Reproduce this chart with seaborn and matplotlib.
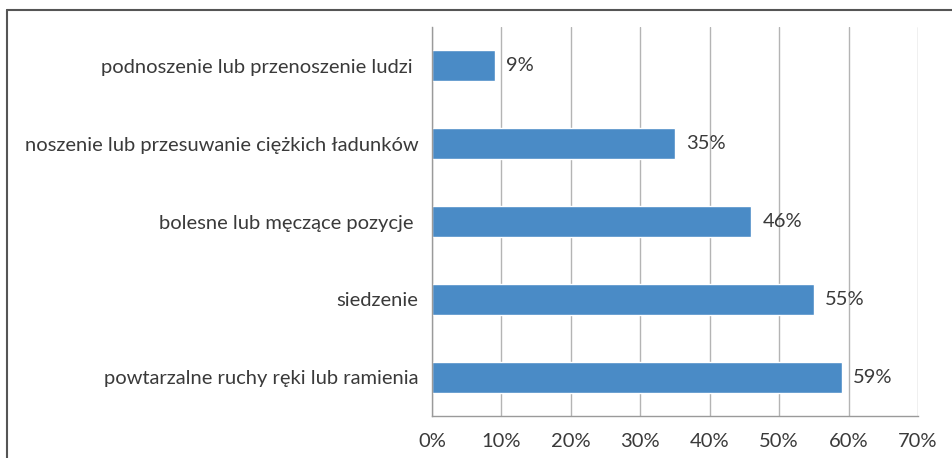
import numpy as np
import matplotlib.pyplot as plt
import seaborn as sns
import pandas as pd
from matplotlib.lines import Line2D

# Data
categories = [
    'podnoszenie lub przenoszenie ludzi ',
    'noszenie lub przesuwanie ciężkich ładunków',
    'bolesne lub męczące pozycje ',
    'siedzenie',
    'powtarzalne ruchy ręki lub ramienia',
]
values = [9, 35, 46, 55, 59]
x_ticks = [0, 10, 20, 30, 40, 50, 60, 70]

df = pd.DataFrame({'Kategoria': categories, 'Procent': values})

sns.set_style('white')
plt.rcParams['font.family'] = ['Lato', 'DejaVu Sans']

fig = plt.figure(figsize=(9.52, 4.58), dpi=100)
ax = fig.add_axes([0.4538, 0.0917, 0.5105, 0.8493])

sns.barplot(x='Procent', y='Kategoria', data=df, orient='h', color='#4A8BC6',
            saturation=1, width=0.4, ax=ax)

fs = 14.5
ax.set_xlim(0, 70)
ax.set_xticks(x_ticks)
ax.set_xticklabels([f'{t}%' for t in x_ticks], fontsize=fs, color='#3a3a3a')
ax.set_xlabel('')
ax.set_ylabel('')
ax.tick_params(axis='y', which='major', length=0, pad=10, labelsize=fs, labelcolor='#3a3a3a')
ax.set_yticks(np.arange(-0.5, len(categories), 1), minor=True)
ax.tick_params(axis='y', which='minor', length=6, color='#9a9a9a', width=1)
ax.tick_params(axis='x', length=5, color='#9a9a9a', width=1, pad=7)
ax.set_ylim(len(categories) - 0.5, -0.5)

ax.grid(axis='x', color='#b4b4b4', linewidth=1)
ax.set_axisbelow(True)
for side in ['top', 'right']:
    ax.spines[side].set_visible(False)
for side in ['left', 'bottom']:
    ax.spines[side].set_color('#9a9a9a')
    ax.spines[side].set_linewidth(1)

for i, v in enumerate(values):
    ax.annotate(f'{v}%', xy=(v, i), xytext=(8, 0), textcoords='offset points',
                va='center', ha='left', fontsize=fs, color='#3a3a3a')

# outer frame (top and left edges visible in the original crop)
fig.add_artist(Line2D([7 / 952, 1.0], [1 - 10 / 458, 1 - 10 / 458],
                      transform=fig.transFigure, color='#555555', linewidth=1.5))
fig.add_artist(Line2D([7 / 952, 7 / 952], [0.0, 1 - 10 / 458],
                      transform=fig.transFigure, color='#555555', linewidth=1.5))

fig.savefig('out.png', dpi=100)
